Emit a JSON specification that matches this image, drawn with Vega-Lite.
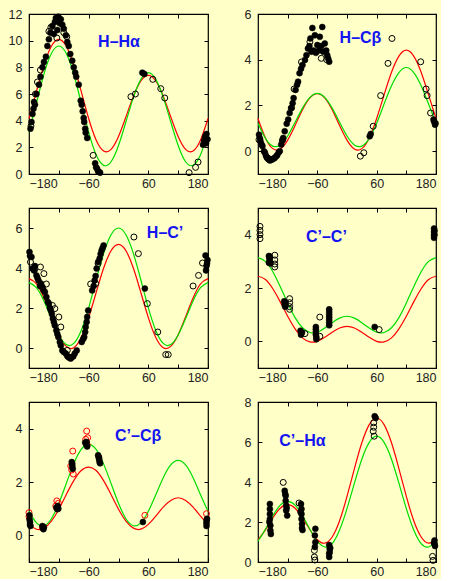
{
  "$schema": "https://vega.github.io/schema/vega-lite/v6.json",
  "background": "#ffffc8",
  "padding": {"left": 7, "top": 7, "right": 0, "bottom": 0},
  "config": {
    "view": {"stroke": "#000", "strokeWidth": 1.2, "fill": "#ffffc8"},
    "axis": {"domain": false, "grid": false, "tickSize": -4, "tickColor": "#000", "tickWidth": 1, "labelFont": "Liberation Sans", "labelFontSize": 12.5, "labelColor": "#222", "labelPadding": 7},
    "axisLeft": {"labelPadding": 11},
    "line": {"strokeWidth": 1.2, "interpolate": "natural", "clip": true}
  },
  "datasets": {
    "curves": [
      {"p":1,"x":-180,"r":4.16,"g":3.14},{"p":1,"x":-165,"r":6.20,"g":5.33},{"p":1,"x":-150,"r":8.16,"g":7.48},{"p":1,"x":-135,"r":9.58,"g":9.03},{"p":1,"x":-120,"r":10.10,"g":9.60},{"p":1,"x":-105,"r":9.58,"g":9.03},{"p":1,"x":-90,"r":8.16,"g":7.48},{"p":1,"x":-75,"r":6.20,"g":5.33},{"p":1,"x":-60,"r":4.16,"g":3.14},{"p":1,"x":-45,"r":2.55,"g":1.44},{"p":1,"x":-30,"r":1.73,"g":0.65},{"p":1,"x":-15,"r":1.85,"g":0.92},{"p":1,"x":0,"r":2.81,"g":2.14},{"p":1,"x":15,"r":4.29,"g":3.92},{"p":1,"x":30,"r":5.83,"g":5.75},{"p":1,"x":45,"r":6.98,"g":7.10},{"p":1,"x":60,"r":7.40,"g":7.60},{"p":1,"x":75,"r":6.98,"g":7.10},{"p":1,"x":90,"r":5.83,"g":5.75},{"p":1,"x":105,"r":4.29,"g":3.92},{"p":1,"x":120,"r":2.81,"g":2.14},{"p":1,"x":135,"r":1.85,"g":0.92},{"p":1,"x":150,"r":1.73,"g":0.65},{"p":1,"x":165,"r":2.55,"g":1.44},{"p":1,"x":180,"r":4.16,"g":3.14},
      {"p":2,"x":-180,"r":1.43,"g":1.22},{"p":2,"x":-165,"r":0.58,"g":0.56},{"p":2,"x":-150,"r":0.11,"g":0.22},{"p":2,"x":-135,"r":0.09,"g":0.27},{"p":2,"x":-120,"r":0.48,"g":0.66},{"p":2,"x":-105,"r":1.12,"g":1.26},{"p":2,"x":-90,"r":1.81,"g":1.88},{"p":2,"x":-75,"r":2.33,"g":2.35},{"p":2,"x":-60,"r":2.52,"g":2.53},{"p":2,"x":-45,"r":2.33,"g":2.35},{"p":2,"x":-30,"r":1.81,"g":1.88},{"p":2,"x":-15,"r":1.12,"g":1.26},{"p":2,"x":0,"r":0.48,"g":0.66},{"p":2,"x":15,"r":0.09,"g":0.27},{"p":2,"x":30,"r":0.11,"g":0.22},{"p":2,"x":45,"r":0.58,"g":0.56},{"p":2,"x":60,"r":1.43,"g":1.22},{"p":2,"x":75,"r":2.46,"g":2.06},{"p":2,"x":90,"r":3.45,"g":2.86},{"p":2,"x":105,"r":4.16,"g":3.44},{"p":2,"x":120,"r":4.42,"g":3.66},{"p":2,"x":135,"r":4.16,"g":3.44},{"p":2,"x":150,"r":3.45,"g":2.86},{"p":2,"x":165,"r":2.46,"g":2.06},{"p":2,"x":180,"r":1.43,"g":1.22},
      {"p":3,"x":-180,"r":3.47,"g":3.27},{"p":3,"x":-165,"r":3.21,"g":3.02},{"p":3,"x":-150,"r":2.50,"g":2.35},{"p":3,"x":-135,"r":1.56,"g":1.47},{"p":3,"x":-120,"r":0.66,"g":0.65},{"p":3,"x":-105,"r":0.08,"g":0.17},{"p":3,"x":-90,"r":0.01,"g":0.23},{"p":3,"x":-75,"r":0.52,"g":0.88},{"p":3,"x":-60,"r":1.52,"g":2.01},{"p":3,"x":-45,"r":2.77,"g":3.40},{"p":3,"x":-30,"r":3.99,"g":4.72},{"p":3,"x":-15,"r":4.86,"g":5.66},{"p":3,"x":0,"r":5.18,"g":6.00},{"p":3,"x":15,"r":4.86,"g":5.66},{"p":3,"x":30,"r":3.99,"g":4.72},{"p":3,"x":45,"r":2.77,"g":3.40},{"p":3,"x":60,"r":1.52,"g":2.01},{"p":3,"x":75,"r":0.52,"g":0.88},{"p":3,"x":90,"r":0.01,"g":0.23},{"p":3,"x":105,"r":0.08,"g":0.17},{"p":3,"x":120,"r":0.66,"g":0.65},{"p":3,"x":135,"r":1.56,"g":1.47},{"p":3,"x":150,"r":2.50,"g":2.35},{"p":3,"x":165,"r":3.21,"g":3.02},{"p":3,"x":180,"r":3.47,"g":3.27},
      {"p":4,"x":-180,"r":2.44,"g":3.14},{"p":4,"x":-165,"r":2.32,"g":3.00},{"p":4,"x":-150,"r":1.97,"g":2.61},{"p":4,"x":-135,"r":1.48,"g":2.05},{"p":4,"x":-120,"r":0.94,"g":1.44},{"p":4,"x":-105,"r":0.47,"g":0.89},{"p":4,"x":-90,"r":0.13,"g":0.51},{"p":4,"x":-75,"r":-0.02,"g":0.33},{"p":4,"x":-60,"r":0.00,"g":0.34},{"p":4,"x":-45,"r":0.15,"g":0.50},{"p":4,"x":-30,"r":0.34,"g":0.70},{"p":4,"x":-15,"r":0.50,"g":0.87},{"p":4,"x":0,"r":0.56,"g":0.94},{"p":4,"x":15,"r":0.50,"g":0.87},{"p":4,"x":30,"r":0.34,"g":0.70},{"p":4,"x":45,"r":0.15,"g":0.50},{"p":4,"x":60,"r":0.00,"g":0.34},{"p":4,"x":75,"r":-0.02,"g":0.33},{"p":4,"x":90,"r":0.13,"g":0.51},{"p":4,"x":105,"r":0.47,"g":0.89},{"p":4,"x":120,"r":0.94,"g":1.44},{"p":4,"x":135,"r":1.48,"g":2.05},{"p":4,"x":150,"r":1.97,"g":2.61},{"p":4,"x":165,"r":2.32,"g":3.00},{"p":4,"x":180,"r":2.44,"g":3.14},
      {"p":5,"x":-180,"r":0.41,"g":0.90},{"p":5,"x":-165,"r":0.23,"g":0.47},{"p":5,"x":-150,"r":0.27,"g":0.36},{"p":5,"x":-135,"r":0.53,"g":0.62},{"p":5,"x":-120,"r":0.98,"g":1.20},{"p":5,"x":-105,"r":1.53,"g":1.95},{"p":5,"x":-90,"r":2.05,"g":2.68},{"p":5,"x":-75,"r":2.43,"g":3.22},{"p":5,"x":-60,"r":2.56,"g":3.41},{"p":5,"x":-45,"r":2.43,"g":3.22},{"p":5,"x":-30,"r":2.05,"g":2.68},{"p":5,"x":-15,"r":1.53,"g":1.95},{"p":5,"x":0,"r":0.98,"g":1.20},{"p":5,"x":15,"r":0.53,"g":0.62},{"p":5,"x":30,"r":0.27,"g":0.36},{"p":5,"x":45,"r":0.23,"g":0.47},{"p":5,"x":60,"r":0.41,"g":0.90},{"p":5,"x":75,"r":0.72,"g":1.52},{"p":5,"x":90,"r":1.06,"g":2.16},{"p":5,"x":105,"r":1.31,"g":2.64},{"p":5,"x":120,"r":1.41,"g":2.81},{"p":5,"x":135,"r":1.31,"g":2.64},{"p":5,"x":150,"r":1.06,"g":2.16},{"p":5,"x":165,"r":0.72,"g":1.52},{"p":5,"x":180,"r":0.41,"g":0.90},
      {"p":6,"x":-180,"r":1.11,"g":1.04},{"p":6,"x":-165,"r":1.61,"g":1.64},{"p":6,"x":-150,"r":2.21,"g":2.31},{"p":6,"x":-135,"r":2.69,"g":2.84},{"p":6,"x":-120,"r":2.87,"g":3.03},{"p":6,"x":-105,"r":2.69,"g":2.84},{"p":6,"x":-90,"r":2.21,"g":2.31},{"p":6,"x":-75,"r":1.61,"g":1.64},{"p":6,"x":-60,"r":1.11,"g":1.04},{"p":6,"x":-45,"r":0.94,"g":0.75},{"p":6,"x":-30,"r":1.25,"g":0.92},{"p":6,"x":-15,"r":2.06,"g":1.60},{"p":6,"x":0,"r":3.28,"g":2.67},{"p":6,"x":15,"r":4.67,"g":3.94},{"p":6,"x":30,"r":5.96,"g":5.14},{"p":6,"x":45,"r":6.87,"g":5.98},{"p":6,"x":60,"r":7.20,"g":6.29},{"p":6,"x":75,"r":6.87,"g":5.98},{"p":6,"x":90,"r":5.96,"g":5.14},{"p":6,"x":105,"r":4.67,"g":3.94},{"p":6,"x":120,"r":3.28,"g":2.67},{"p":6,"x":135,"r":2.06,"g":1.60},{"p":6,"x":150,"r":1.25,"g":0.92},{"p":6,"x":165,"r":0.94,"g":0.75},{"p":6,"x":180,"r":1.11,"g":1.04}
    ],
    "pts": [
      {"p":1,"k":"f","x":-177,"y":3.4},{"p":1,"k":"f","x":-175,"y":3.9},{"p":1,"k":"f","x":-173,"y":4.5},{"p":1,"k":"f","x":-171,"y":4.9},{"p":1,"k":"f","x":-170,"y":5.4},{"p":1,"k":"f","x":-168,"y":5.2},{"p":1,"k":"f","x":-165,"y":6.0},{"p":1,"k":"f","x":-160,"y":6.7},{"p":1,"k":"f","x":-157,"y":7.3},{"p":1,"k":"f","x":-153,"y":8.0},{"p":1,"k":"f","x":-150,"y":8.4},{"p":1,"k":"f","x":-146,"y":8.8},{"p":1,"k":"f","x":-143,"y":9.6},{"p":1,"k":"f","x":-140,"y":10.1},{"p":1,"k":"f","x":-137,"y":10.6},{"p":1,"k":"f","x":-133,"y":11.1},{"p":1,"k":"f","x":-130,"y":10.5},{"p":1,"k":"f","x":-128,"y":11.4},{"p":1,"k":"f","x":-126,"y":11.7},{"p":1,"k":"f","x":-123,"y":10.8},{"p":1,"k":"f","x":-121,"y":11.8},{"p":1,"k":"f","x":-118,"y":11.3},{"p":1,"k":"f","x":-116,"y":11.6},{"p":1,"k":"f","x":-113,"y":11.2},{"p":1,"k":"f","x":-110,"y":10.9},{"p":1,"k":"f","x":-106,"y":10.4},{"p":1,"k":"f","x":-103,"y":9.9},{"p":1,"k":"f","x":-100,"y":9.6},{"p":1,"k":"f","x":-97,"y":9.0},{"p":1,"k":"f","x":-93,"y":8.5},{"p":1,"k":"f","x":-90,"y":8.0},{"p":1,"k":"f","x":-87,"y":7.6},{"p":1,"k":"f","x":-85,"y":7.3},{"p":1,"k":"f","x":-80,"y":6.7},{"p":1,"k":"f","x":-76,"y":5.5},{"p":1,"k":"f","x":-74,"y":5.2},{"p":1,"k":"f","x":-72,"y":4.7},{"p":1,"k":"f","x":-70,"y":4.2},{"p":1,"k":"f","x":-69,"y":3.9},{"p":1,"k":"f","x":-67,"y":3.4},{"p":1,"k":"f","x":-66,"y":3.1},{"p":1,"k":"f","x":-63,"y":2.7},{"p":1,"k":"f","x":-47,"y":0.8},{"p":1,"k":"f","x":-45,"y":0.5},{"p":1,"k":"f","x":-43,"y":0.4},{"p":1,"k":"f","x":-41,"y":0.2},{"p":1,"k":"f","x":-39,"y":0.15},{"p":1,"k":"f","x":-37,"y":0.1},{"p":1,"k":"f","x":48,"y":7.6},{"p":1,"k":"f","x":52,"y":7.5},{"p":1,"k":"f","x":170,"y":2.2},{"p":1,"k":"f","x":172,"y":2.5},{"p":1,"k":"f","x":174,"y":2.8},{"p":1,"k":"f","x":176,"y":2.3},{"p":1,"k":"f","x":177,"y":3.0},{"p":1,"k":"f","x":179,"y":2.6},
      {"p":1,"k":"o","x":-176,"y":3.6},{"p":1,"k":"o","x":-167,"y":6.0},{"p":1,"k":"o","x":-163,"y":6.9},{"p":1,"k":"o","x":-157,"y":7.8},{"p":1,"k":"o","x":-140,"y":10.7},{"p":1,"k":"o","x":-136,"y":11.0},{"p":1,"k":"o","x":-124,"y":10.2},{"p":1,"k":"o","x":-110,"y":10.6},{"p":1,"k":"o","x":-104,"y":10.3},{"p":1,"k":"o","x":-51,"y":1.4},{"p":1,"k":"o","x":25,"y":5.8},{"p":1,"k":"o","x":34,"y":6.0},{"p":1,"k":"o","x":69,"y":7.1},{"p":1,"k":"o","x":85,"y":6.4},{"p":1,"k":"o","x":93,"y":5.7},{"p":1,"k":"o","x":142,"y":0.1},{"p":1,"k":"o","x":155,"y":0.5},{"p":1,"k":"o","x":160,"y":0.9},
      {"p":2,"k":"f","x":-178,"y":0.72},{"p":2,"k":"f","x":-176,"y":0.55},{"p":2,"k":"f","x":-175,"y":0.43},{"p":2,"k":"f","x":-173,"y":0.3},{"p":2,"k":"f","x":-171,"y":0.22},{"p":2,"k":"f","x":-168,"y":0.0},{"p":2,"k":"f","x":-166,"y":-0.07},{"p":2,"k":"f","x":-164,"y":-0.2},{"p":2,"k":"f","x":-162,"y":-0.29},{"p":2,"k":"f","x":-159,"y":-0.36},{"p":2,"k":"f","x":-156,"y":-0.41},{"p":2,"k":"f","x":-153,"y":-0.38},{"p":2,"k":"f","x":-151,"y":-0.36},{"p":2,"k":"f","x":-148,"y":-0.32},{"p":2,"k":"f","x":-146,"y":-0.29},{"p":2,"k":"f","x":-143,"y":-0.22},{"p":2,"k":"f","x":-141,"y":-0.17},{"p":2,"k":"f","x":-138,"y":-0.05},{"p":2,"k":"f","x":-136,"y":0.0},{"p":2,"k":"f","x":-133,"y":0.29},{"p":2,"k":"f","x":-131,"y":0.45},{"p":2,"k":"f","x":-129,"y":0.58},{"p":2,"k":"f","x":-126,"y":0.87},{"p":2,"k":"f","x":-122,"y":1.2},{"p":2,"k":"f","x":-119,"y":1.38},{"p":2,"k":"f","x":-116,"y":1.67},{"p":2,"k":"f","x":-113,"y":1.88},{"p":2,"k":"f","x":-110,"y":2.1},{"p":2,"k":"f","x":-108,"y":2.32},{"p":2,"k":"f","x":-104,"y":2.68},{"p":2,"k":"f","x":-101,"y":2.9},{"p":2,"k":"f","x":-99,"y":3.04},{"p":2,"k":"f","x":-96,"y":3.41},{"p":2,"k":"f","x":-93,"y":3.6},{"p":2,"k":"f","x":-90,"y":3.77},{"p":2,"k":"f","x":-85,"y":3.99},{"p":2,"k":"f","x":-82,"y":4.2},{"p":2,"k":"f","x":-79,"y":4.49},{"p":2,"k":"f","x":-76,"y":4.6},{"p":2,"k":"f","x":-74,"y":4.93},{"p":2,"k":"f","x":-72,"y":4.35},{"p":2,"k":"f","x":-70,"y":5.39},{"p":2,"k":"f","x":-68,"y":4.4},{"p":2,"k":"f","x":-65,"y":5.07},{"p":2,"k":"f","x":-63,"y":4.3},{"p":2,"k":"f","x":-60,"y":4.64},{"p":2,"k":"f","x":-57,"y":4.4},{"p":2,"k":"f","x":-55,"y":5.0},{"p":2,"k":"f","x":-52,"y":4.6},{"p":2,"k":"f","x":-50,"y":5.43},{"p":2,"k":"f","x":-48,"y":4.35},{"p":2,"k":"f","x":-45,"y":4.71},{"p":2,"k":"f","x":-42,"y":4.4},{"p":2,"k":"f","x":-40,"y":4.2},{"p":2,"k":"f","x":-38,"y":4.05},{"p":2,"k":"f","x":-36,"y":3.91},{"p":2,"k":"f","x":46,"y":0.65},{"p":2,"k":"f","x":48,"y":0.75},{"p":2,"k":"f","x":175,"y":1.38},{"p":2,"k":"f","x":176,"y":1.3},{"p":2,"k":"f","x":178,"y":1.16},{"p":2,"k":"f","x":179,"y":1.22},
      {"p":2,"k":"o","x":-178,"y":0.5},{"p":2,"k":"o","x":-160,"y":-0.3},{"p":2,"k":"o","x":-130,"y":0.5},{"p":2,"k":"o","x":-112,"y":1.9},{"p":2,"k":"o","x":-107,"y":2.72},{"p":2,"k":"o","x":-92,"y":3.9},{"p":2,"k":"o","x":-75,"y":4.78},{"p":2,"k":"o","x":-52,"y":4.06},{"p":2,"k":"o","x":-41,"y":4.0},{"p":2,"k":"o","x":27,"y":-0.22},{"p":2,"k":"o","x":34,"y":-0.07},{"p":2,"k":"o","x":53,"y":1.09},{"p":2,"k":"o","x":68,"y":2.43},{"p":2,"k":"o","x":83,"y":3.84},{"p":2,"k":"o","x":91,"y":4.93},{"p":2,"k":"o","x":149,"y":3.91},{"p":2,"k":"o","x":160,"y":2.72},{"p":2,"k":"o","x":162,"y":2.43},{"p":2,"k":"o","x":169,"y":1.67},
      {"p":3,"k":"f","x":-179,"y":4.8},{"p":3,"k":"f","x":-178,"y":4.6},{"p":3,"k":"f","x":-175,"y":4.55},{"p":3,"k":"f","x":-173,"y":3.97},{"p":3,"k":"f","x":-170,"y":3.88},{"p":3,"k":"f","x":-168,"y":4.1},{"p":3,"k":"f","x":-165,"y":3.63},{"p":3,"k":"f","x":-163,"y":3.5},{"p":3,"k":"f","x":-161,"y":3.38},{"p":3,"k":"f","x":-158,"y":3.1},{"p":3,"k":"f","x":-156,"y":3.22},{"p":3,"k":"f","x":-153,"y":3.05},{"p":3,"k":"f","x":-151,"y":2.9},{"p":3,"k":"f","x":-148,"y":2.8},{"p":3,"k":"f","x":-145,"y":2.55},{"p":3,"k":"f","x":-142,"y":2.3},{"p":3,"k":"f","x":-140,"y":2.22},{"p":3,"k":"f","x":-138,"y":2.0},{"p":3,"k":"f","x":-136,"y":1.88},{"p":3,"k":"f","x":-134,"y":1.7},{"p":3,"k":"f","x":-132,"y":1.47},{"p":3,"k":"f","x":-130,"y":1.3},{"p":3,"k":"f","x":-128,"y":1.13},{"p":3,"k":"f","x":-125,"y":0.88},{"p":3,"k":"f","x":-123,"y":0.7},{"p":3,"k":"f","x":-121,"y":0.55},{"p":3,"k":"f","x":-118,"y":0.3},{"p":3,"k":"f","x":-116,"y":0.13},{"p":3,"k":"f","x":-113,"y":-0.12},{"p":3,"k":"f","x":-110,"y":-0.2},{"p":3,"k":"f","x":-106,"y":-0.28},{"p":3,"k":"f","x":-103,"y":-0.4},{"p":3,"k":"f","x":-101,"y":-0.45},{"p":3,"k":"f","x":-98,"y":-0.5},{"p":3,"k":"f","x":-96,"y":-0.53},{"p":3,"k":"f","x":-94,"y":-0.45},{"p":3,"k":"f","x":-91,"y":-0.42},{"p":3,"k":"f","x":-88,"y":-0.28},{"p":3,"k":"f","x":-84,"y":-0.12},{"p":3,"k":"f","x":-74,"y":0.3},{"p":3,"k":"f","x":-71,"y":0.45},{"p":3,"k":"f","x":-69,"y":0.55},{"p":3,"k":"f","x":-67,"y":0.8},{"p":3,"k":"f","x":-66,"y":1.05},{"p":3,"k":"f","x":-64,"y":1.3},{"p":3,"k":"f","x":-63,"y":1.55},{"p":3,"k":"f","x":-61,"y":1.88},{"p":3,"k":"f","x":-53,"y":2.88},{"p":3,"k":"f","x":-50,"y":3.1},{"p":3,"k":"f","x":-48,"y":3.38},{"p":3,"k":"f","x":-46,"y":3.6},{"p":3,"k":"f","x":-44,"y":3.97},{"p":3,"k":"f","x":-41,"y":4.3},{"p":3,"k":"f","x":-38,"y":4.47},{"p":3,"k":"f","x":-36,"y":4.7},{"p":3,"k":"f","x":-34,"y":4.88},{"p":3,"k":"f","x":-32,"y":5.0},{"p":3,"k":"f","x":-30,"y":5.13},{"p":3,"k":"f","x":53,"y":2.97},{"p":3,"k":"f","x":176,"y":3.88},{"p":3,"k":"f","x":177,"y":4.1},{"p":3,"k":"f","x":178,"y":4.22},{"p":3,"k":"f","x":179,"y":4.4},{"p":3,"k":"f","x":175,"y":4.63},
      {"p":3,"k":"o","x":-177,"y":4.3},{"p":3,"k":"o","x":-169,"y":3.9},{"p":3,"k":"o","x":-157,"y":4.05},{"p":3,"k":"o","x":-150,"y":3.72},{"p":3,"k":"o","x":-145,"y":3.2},{"p":3,"k":"o","x":-133,"y":2.13},{"p":3,"k":"o","x":-128,"y":1.97},{"p":3,"k":"o","x":-120,"y":1.55},{"p":3,"k":"o","x":-116,"y":1.05},{"p":3,"k":"o","x":-103,"y":-0.12},{"p":3,"k":"o","x":-56,"y":3.2},{"p":3,"k":"o","x":-46,"y":3.22},{"p":3,"k":"o","x":-41,"y":4.22},{"p":3,"k":"o","x":31,"y":5.55},{"p":3,"k":"o","x":40,"y":4.72},{"p":3,"k":"o","x":58,"y":2.22},{"p":3,"k":"o","x":79,"y":0.8},{"p":3,"k":"o","x":95,"y":-0.33},{"p":3,"k":"o","x":100,"y":-0.33},{"p":3,"k":"o","x":150,"y":3.1},{"p":3,"k":"o","x":161,"y":3.63},{"p":3,"k":"o","x":169,"y":4.25},
      {"p":4,"k":"o","x":-176,"y":4.31},{"p":4,"k":"o","x":-176,"y":4.16},{"p":4,"k":"o","x":-176,"y":4.0},{"p":4,"k":"o","x":-176,"y":3.85},{"p":4,"k":"o","x":-146,"y":3.23},{"p":4,"k":"o","x":-146,"y":3.05},{"p":4,"k":"o","x":-146,"y":2.9},{"p":4,"k":"o","x":-146,"y":2.79},{"p":4,"k":"o","x":-116,"y":1.6},{"p":4,"k":"o","x":-116,"y":1.45},{"p":4,"k":"o","x":-116,"y":1.3},{"p":4,"k":"o","x":-116,"y":1.2},{"p":4,"k":"o","x":-85,"y":0.29},{"p":4,"k":"o","x":-55,"y":0.91},{"p":4,"k":"o","x":-55,"y":0.19},{"p":4,"k":"o","x":65,"y":0.44},
      {"p":4,"k":"f","x":-158,"y":3.2},{"p":4,"k":"f","x":-157,"y":3.1},{"p":4,"k":"f","x":-156,"y":3.0},{"p":4,"k":"f","x":-155,"y":2.92},{"p":4,"k":"f","x":-158,"y":2.95},{"p":4,"k":"f","x":-156,"y":3.18},{"p":4,"k":"f","x":-127,"y":1.5},{"p":4,"k":"f","x":-126,"y":1.38},{"p":4,"k":"f","x":-125,"y":1.3},{"p":4,"k":"f","x":-124,"y":1.45},{"p":4,"k":"f","x":-94,"y":0.4},{"p":4,"k":"f","x":-93,"y":0.25},{"p":4,"k":"f","x":-91,"y":0.33},{"p":4,"k":"f","x":-63,"y":0.54},{"p":4,"k":"f","x":-63,"y":0.45},{"p":4,"k":"f","x":-63,"y":0.35},{"p":4,"k":"f","x":-63,"y":0.25},{"p":4,"k":"f","x":-62,"y":0.16},{"p":4,"k":"f","x":-62,"y":0.08},{"p":4,"k":"f","x":-36,"y":1.2},{"p":4,"k":"f","x":-36,"y":1.1},{"p":4,"k":"f","x":-36,"y":1.0},{"p":4,"k":"f","x":-36,"y":0.9},{"p":4,"k":"f","x":-36,"y":0.8},{"p":4,"k":"f","x":-36,"y":0.7},{"p":4,"k":"f","x":-36,"y":0.6},{"p":4,"k":"f","x":56,"y":0.54},{"p":4,"k":"f","x":176,"y":4.23},{"p":4,"k":"f","x":176,"y":4.1},{"p":4,"k":"f","x":176,"y":3.98},{"p":4,"k":"f","x":176,"y":3.88},{"p":4,"k":"f","x":177,"y":4.15},{"p":4,"k":"f","x":177,"y":4.0},
      {"p":5,"k":"f","x":-179,"y":0.75},{"p":5,"k":"f","x":-179,"y":0.6},{"p":5,"k":"f","x":-178,"y":0.5},{"p":5,"k":"f","x":-178,"y":0.4},{"p":5,"k":"f","x":-177,"y":0.35},{"p":5,"k":"f","x":-153,"y":0.35},{"p":5,"k":"f","x":-152,"y":0.28},{"p":5,"k":"f","x":-151,"y":0.23},{"p":5,"k":"f","x":-150,"y":0.3},{"p":5,"k":"f","x":-125,"y":1.04},{"p":5,"k":"f","x":-123,"y":0.98},{"p":5,"k":"f","x":-122,"y":1.1},{"p":5,"k":"f","x":-121,"y":1.0},{"p":5,"k":"f","x":-94,"y":2.75},{"p":5,"k":"f","x":-93,"y":2.6},{"p":5,"k":"f","x":-92,"y":2.5},{"p":5,"k":"f","x":-93,"y":2.68},{"p":5,"k":"f","x":-67,"y":3.48},{"p":5,"k":"f","x":-65,"y":3.41},{"p":5,"k":"f","x":-63,"y":3.33},{"p":5,"k":"f","x":-64,"y":3.5},{"p":5,"k":"f","x":-41,"y":3.0},{"p":5,"k":"f","x":-40,"y":2.95},{"p":5,"k":"f","x":-39,"y":2.85},{"p":5,"k":"f","x":-38,"y":2.75},{"p":5,"k":"f","x":-37,"y":2.7},{"p":5,"k":"f","x":-39,"y":2.9},{"p":5,"k":"f","x":49,"y":0.5},{"p":5,"k":"f","x":177,"y":0.35},{"p":5,"k":"f","x":177,"y":0.45},{"p":5,"k":"f","x":177,"y":0.54},{"p":5,"k":"f","x":178,"y":0.62},
      {"p":5,"k":"r","x":-180,"y":0.85},{"p":5,"k":"r","x":-180,"y":0.7},{"p":5,"k":"r","x":-153,"y":0.29},{"p":5,"k":"r","x":-126,"y":1.1},{"p":5,"k":"r","x":-124,"y":1.29},{"p":5,"k":"r","x":-121,"y":1.2},{"p":5,"k":"r","x":-96,"y":2.6},{"p":5,"k":"r","x":-92,"y":3.16},{"p":5,"k":"r","x":-91,"y":2.3},{"p":5,"k":"r","x":-94,"y":2.45},{"p":5,"k":"r","x":-66,"y":3.6},{"p":5,"k":"r","x":-64,"y":3.91},{"p":5,"k":"r","x":-62,"y":3.66},{"p":5,"k":"r","x":-63,"y":3.4},{"p":5,"k":"r","x":53,"y":0.75},{"p":5,"k":"r","x":177,"y":0.81},
      {"p":6,"k":"f","x":-156,"y":2.9},{"p":6,"k":"f","x":-156,"y":2.65},{"p":6,"k":"f","x":-156,"y":2.4},{"p":6,"k":"f","x":-156,"y":2.15},{"p":6,"k":"f","x":-155,"y":1.82},{"p":6,"k":"f","x":-155,"y":1.57},{"p":6,"k":"f","x":-154,"y":1.4},{"p":6,"k":"f","x":-157,"y":2.0},{"p":6,"k":"f","x":-126,"y":3.56},{"p":6,"k":"f","x":-124,"y":3.31},{"p":6,"k":"f","x":-124,"y":3.06},{"p":6,"k":"f","x":-123,"y":2.82},{"p":6,"k":"f","x":-123,"y":2.57},{"p":6,"k":"f","x":-121,"y":2.32},{"p":6,"k":"f","x":-125,"y":3.4},{"p":6,"k":"f","x":-122,"y":2.7},{"p":6,"k":"f","x":-93,"y":2.9},{"p":6,"k":"f","x":-92,"y":2.65},{"p":6,"k":"f","x":-92,"y":2.4},{"p":6,"k":"f","x":-92,"y":2.15},{"p":6,"k":"f","x":-91,"y":1.9},{"p":6,"k":"f","x":-91,"y":1.7},{"p":6,"k":"f","x":-90,"y":1.6},{"p":6,"k":"f","x":-94,"y":2.5},{"p":6,"k":"f","x":-64,"y":1.66},{"p":6,"k":"f","x":-65,"y":1.33},{"p":6,"k":"f","x":-64,"y":0.99},{"p":6,"k":"f","x":-65,"y":0.75},{"p":6,"k":"f","x":-36,"y":0.85},{"p":6,"k":"f","x":-35,"y":0.66},{"p":6,"k":"f","x":-35,"y":0.5},{"p":6,"k":"f","x":-36,"y":0.41},{"p":6,"k":"f","x":-36,"y":0.25},{"p":6,"k":"f","x":-34,"y":0.7},{"p":6,"k":"f","x":56,"y":7.29},{"p":6,"k":"f","x":58,"y":7.2},{"p":6,"k":"f","x":177,"y":1.08},{"p":6,"k":"f","x":177,"y":0.91},{"p":6,"k":"f","x":178,"y":0.8},{"p":6,"k":"f","x":176,"y":0.95},
      {"p":6,"k":"o","x":-129,"y":3.98},{"p":6,"k":"o","x":-97,"y":2.95},{"p":6,"k":"o","x":-66,"y":0.58},{"p":6,"k":"o","x":-66,"y":0.25},{"p":6,"k":"o","x":-65,"y":0.1},{"p":6,"k":"o","x":54,"y":6.96},{"p":6,"k":"o","x":54,"y":6.74},{"p":6,"k":"o","x":53,"y":6.54},{"p":6,"k":"o","x":55,"y":6.29},{"p":6,"k":"o","x":173,"y":0.28},{"p":6,"k":"o","x":174,"y":0.08}
    ]
  },
  "columns": 2,
  "spacing": {"row": 34, "column": 50},
  "bounds": "flush",
  "concat": [
    {
      "width": 179, "height": 160,
      "layer": [
        {"data": {"name": "curves"}, "transform": [{"filter": "datum.p == 1"}, {"fold": ["r", "g"], "as": ["c", "y"]}], "mark": {"type": "line"},
         "encoding": {"x": {"field": "x", "type": "quantitative", "scale": {"domain": [-180, 180], "nice": false, "zero": false}, "axis": {"orient": "bottom", "title": null, "values": [-180, -120, -60, 0, 60, 120, 180], "labelExpr": "abs(datum.value) == 180 || abs(datum.value) == 60 ? datum.label : ''"}},
                      "y": {"field": "y", "type": "quantitative", "scale": {"domain": [0, 12], "nice": false, "zero": false}, "axis": {"orient": "left", "title": null, "values": [0, 2, 4, 6, 8, 10, 12]}},
                      "color": {"field": "c", "type": "nominal", "scale": {"domain": ["r", "g"], "range": ["#ff0000", "#00dd00"]}, "legend": null}}},
        {"data": {"name": "pts"}, "transform": [{"filter": "datum.p == 1 && datum.k == 'o'"}], "mark": {"type": "point", "shape": "circle", "filled": false, "stroke": "#000", "strokeWidth": 1, "size": 36, "opacity": 1},
         "encoding": {"x": {"field": "x", "type": "quantitative", "axis": {"orient": "top", "title": null, "labels": false, "values": [-180, -120, -60, 0, 60, 120, 180]}}, "y": {"field": "y", "type": "quantitative", "axis": {"orient": "right", "title": null, "labels": false, "values": [0, 2, 4, 6, 8, 10, 12]}}}},
        {"data": {"name": "pts"}, "transform": [{"filter": "datum.p == 1 && datum.k == 'f'"}], "mark": {"type": "circle", "fill": "#000", "stroke": "#000", "strokeWidth": 0.5, "size": 36, "opacity": 1},
         "encoding": {"x": {"field": "x", "type": "quantitative", "axis": null}, "y": {"field": "y", "type": "quantitative", "axis": null}}},
        {"data": {"values": [{"t": "H–Hα"}]}, "mark": {"type": "text", "font": "Liberation Sans", "fontWeight": "bold", "fontSize": 16, "fill": "#1414f0", "align": "left", "baseline": "alphabetic"},
         "encoding": {"x": {"datum": -41, "axis": null}, "y": {"datum": 9.53, "axis": null}, "text": {"field": "t"}}}
      ],
      "resolve": {"axis": {"x": "independent", "y": "independent"}}
    },
    {
      "width": 178, "height": 160,
      "layer": [
        {"data": {"name": "curves"}, "transform": [{"filter": "datum.p == 2"}, {"fold": ["r", "g"], "as": ["c", "y"]}], "mark": {"type": "line"},
         "encoding": {"x": {"field": "x", "type": "quantitative", "scale": {"domain": [-180, 180], "nice": false, "zero": false}, "axis": {"orient": "bottom", "title": null, "values": [-180, -120, -60, 0, 60, 120, 180], "labelExpr": "abs(datum.value) == 180 || abs(datum.value) == 60 ? datum.label : ''"}},
                      "y": {"field": "y", "type": "quantitative", "scale": {"domain": [-1, 6], "nice": false, "zero": false}, "axis": {"orient": "left", "title": null, "values": [0, 2, 4, 6]}},
                      "color": {"field": "c", "type": "nominal", "scale": {"domain": ["r", "g"], "range": ["#ff0000", "#00dd00"]}, "legend": null}}},
        {"data": {"name": "pts"}, "transform": [{"filter": "datum.p == 2 && datum.k == 'o'"}], "mark": {"type": "point", "shape": "circle", "filled": false, "stroke": "#000", "strokeWidth": 1, "size": 36, "opacity": 1},
         "encoding": {"x": {"field": "x", "type": "quantitative", "axis": {"orient": "top", "title": null, "labels": false, "values": [-180, -120, -60, 0, 60, 120, 180]}}, "y": {"field": "y", "type": "quantitative", "axis": {"orient": "right", "title": null, "labels": false, "values": [0, 2, 4, 6]}}}},
        {"data": {"name": "pts"}, "transform": [{"filter": "datum.p == 2 && datum.k == 'f'"}], "mark": {"type": "circle", "fill": "#000", "stroke": "#000", "strokeWidth": 0.5, "size": 36, "opacity": 1},
         "encoding": {"x": {"field": "x", "type": "quantitative", "axis": null}, "y": {"field": "y", "type": "quantitative", "axis": null}}},
        {"data": {"values": [{"t": "H–Cβ"}]}, "mark": {"type": "text", "font": "Liberation Sans", "fontWeight": "bold", "fontSize": 16, "fill": "#1414f0", "align": "left", "baseline": "alphabetic"},
         "encoding": {"x": {"datum": -15, "axis": null}, "y": {"datum": 4.73, "axis": null}, "text": {"field": "t"}}}
      ],
      "resolve": {"axis": {"x": "independent", "y": "independent"}}
    },
    {
      "width": 179, "height": 160,
      "layer": [
        {"data": {"name": "curves"}, "transform": [{"filter": "datum.p == 3"}, {"fold": ["r", "g"], "as": ["c", "y"]}], "mark": {"type": "line"},
         "encoding": {"x": {"field": "x", "type": "quantitative", "scale": {"domain": [-180, 180], "nice": false, "zero": false}, "axis": {"orient": "bottom", "title": null, "values": [-180, -120, -60, 0, 60, 120, 180], "labelExpr": "abs(datum.value) == 180 || abs(datum.value) == 60 ? datum.label : ''"}},
                      "y": {"field": "y", "type": "quantitative", "scale": {"domain": [-1, 7], "nice": false, "zero": false}, "axis": {"orient": "left", "title": null, "values": [0, 2, 4, 6]}},
                      "color": {"field": "c", "type": "nominal", "scale": {"domain": ["r", "g"], "range": ["#ff0000", "#00dd00"]}, "legend": null}}},
        {"data": {"name": "pts"}, "transform": [{"filter": "datum.p == 3 && datum.k == 'o'"}], "mark": {"type": "point", "shape": "circle", "filled": false, "stroke": "#000", "strokeWidth": 1, "size": 36, "opacity": 1},
         "encoding": {"x": {"field": "x", "type": "quantitative", "axis": {"orient": "top", "title": null, "labels": false, "values": [-180, -120, -60, 0, 60, 120, 180]}}, "y": {"field": "y", "type": "quantitative", "axis": {"orient": "right", "title": null, "labels": false, "values": [0, 2, 4, 6]}}}},
        {"data": {"name": "pts"}, "transform": [{"filter": "datum.p == 3 && datum.k == 'f'"}], "mark": {"type": "circle", "fill": "#000", "stroke": "#000", "strokeWidth": 0.5, "size": 36, "opacity": 1},
         "encoding": {"x": {"field": "x", "type": "quantitative", "axis": null}, "y": {"field": "y", "type": "quantitative", "axis": null}}},
        {"data": {"values": [{"t": "H–C’"}]}, "mark": {"type": "text", "font": "Liberation Sans", "fontWeight": "bold", "fontSize": 16, "fill": "#1414f0", "align": "left", "baseline": "alphabetic"},
         "encoding": {"x": {"datum": 57, "axis": null}, "y": {"datum": 5.49, "axis": null}, "text": {"field": "t"}}}
      ],
      "resolve": {"axis": {"x": "independent", "y": "independent"}}
    },
    {
      "width": 178, "height": 160,
      "layer": [
        {"data": {"name": "curves"}, "transform": [{"filter": "datum.p == 4"}, {"fold": ["r", "g"], "as": ["c", "y"]}], "mark": {"type": "line"},
         "encoding": {"x": {"field": "x", "type": "quantitative", "scale": {"domain": [-180, 180], "nice": false, "zero": false}, "axis": {"orient": "bottom", "title": null, "values": [-180, -120, -60, 0, 60, 120, 180], "labelExpr": "abs(datum.value) == 180 || abs(datum.value) == 60 ? datum.label : ''"}},
                      "y": {"field": "y", "type": "quantitative", "scale": {"domain": [-1, 5], "nice": false, "zero": false}, "axis": {"orient": "left", "title": null, "values": [0, 2, 4]}},
                      "color": {"field": "c", "type": "nominal", "scale": {"domain": ["r", "g"], "range": ["#ff0000", "#00dd00"]}, "legend": null}}},
        {"data": {"name": "pts"}, "transform": [{"filter": "datum.p == 4 && datum.k == 'o'"}], "mark": {"type": "point", "shape": "circle", "filled": false, "stroke": "#000", "strokeWidth": 1, "size": 36, "opacity": 1},
         "encoding": {"x": {"field": "x", "type": "quantitative", "axis": {"orient": "top", "title": null, "labels": false, "values": [-180, -120, -60, 0, 60, 120, 180]}}, "y": {"field": "y", "type": "quantitative", "axis": {"orient": "right", "title": null, "labels": false, "values": [0, 2, 4]}}}},
        {"data": {"name": "pts"}, "transform": [{"filter": "datum.p == 4 && datum.k == 'f'"}], "mark": {"type": "circle", "fill": "#000", "stroke": "#000", "strokeWidth": 0.5, "size": 36, "opacity": 1},
         "encoding": {"x": {"field": "x", "type": "quantitative", "axis": null}, "y": {"field": "y", "type": "quantitative", "axis": null}}},
        {"data": {"values": [{"t": "C’–C’"}]}, "mark": {"type": "text", "font": "Liberation Sans", "fontWeight": "bold", "fontSize": 16, "fill": "#1414f0", "align": "left", "baseline": "alphabetic"},
         "encoding": {"x": {"datum": -83, "axis": null}, "y": {"datum": 3.71, "axis": null}, "text": {"field": "t"}}}
      ],
      "resolve": {"axis": {"x": "independent", "y": "independent"}}
    },
    {
      "width": 179, "height": 160,
      "layer": [
        {"data": {"name": "curves"}, "transform": [{"filter": "datum.p == 5"}, {"fold": ["r", "g"], "as": ["c", "y"]}], "mark": {"type": "line"},
         "encoding": {"x": {"field": "x", "type": "quantitative", "scale": {"domain": [-180, 180], "nice": false, "zero": false}, "axis": {"orient": "bottom", "title": null, "values": [-180, -120, -60, 0, 60, 120, 180], "labelExpr": "abs(datum.value) == 180 || abs(datum.value) == 60 ? datum.label : ''"}},
                      "y": {"field": "y", "type": "quantitative", "scale": {"domain": [-1, 5], "nice": false, "zero": false}, "axis": {"orient": "left", "title": null, "values": [0, 2, 4]}},
                      "color": {"field": "c", "type": "nominal", "scale": {"domain": ["r", "g"], "range": ["#ff0000", "#00dd00"]}, "legend": null}}},
        {"data": {"name": "pts"}, "transform": [{"filter": "datum.p == 5 && datum.k == 'r'"}], "mark": {"type": "point", "shape": "circle", "filled": false, "stroke": "#ff0000", "strokeWidth": 1, "size": 36, "opacity": 1},
         "encoding": {"x": {"field": "x", "type": "quantitative", "axis": {"orient": "top", "title": null, "labels": false, "values": [-180, -120, -60, 0, 60, 120, 180]}}, "y": {"field": "y", "type": "quantitative", "axis": {"orient": "right", "title": null, "labels": false, "values": [0, 2, 4]}}}},
        {"data": {"name": "pts"}, "transform": [{"filter": "datum.p == 5 && datum.k == 'f'"}], "mark": {"type": "circle", "fill": "#000", "stroke": "#000", "strokeWidth": 0.5, "size": 36, "opacity": 1},
         "encoding": {"x": {"field": "x", "type": "quantitative", "axis": null}, "y": {"field": "y", "type": "quantitative", "axis": null}}},
        {"data": {"values": [{"t": "C’–Cβ"}]}, "mark": {"type": "text", "font": "Liberation Sans", "fontWeight": "bold", "fontSize": 16, "fill": "#1414f0", "align": "left", "baseline": "alphabetic"},
         "encoding": {"x": {"datum": -7, "axis": null}, "y": {"datum": 3.52, "axis": null}, "text": {"field": "t"}}}
      ],
      "resolve": {"axis": {"x": "independent", "y": "independent"}}
    },
    {
      "width": 178, "height": 160,
      "layer": [
        {"data": {"name": "curves"}, "transform": [{"filter": "datum.p == 6"}, {"fold": ["r", "g"], "as": ["c", "y"]}], "mark": {"type": "line"},
         "encoding": {"x": {"field": "x", "type": "quantitative", "scale": {"domain": [-180, 180], "nice": false, "zero": false}, "axis": {"orient": "bottom", "title": null, "values": [-180, -120, -60, 0, 60, 120, 180], "labelExpr": "abs(datum.value) == 180 || abs(datum.value) == 60 ? datum.label : ''"}},
                      "y": {"field": "y", "type": "quantitative", "scale": {"domain": [0, 8], "nice": false, "zero": false}, "axis": {"orient": "left", "title": null, "values": [0, 2, 4, 6, 8]}},
                      "color": {"field": "c", "type": "nominal", "scale": {"domain": ["r", "g"], "range": ["#ff0000", "#00dd00"]}, "legend": null}}},
        {"data": {"name": "pts"}, "transform": [{"filter": "datum.p == 6 && datum.k == 'o'"}], "mark": {"type": "point", "shape": "circle", "filled": false, "stroke": "#000", "strokeWidth": 1, "size": 36, "opacity": 1},
         "encoding": {"x": {"field": "x", "type": "quantitative", "axis": {"orient": "top", "title": null, "labels": false, "values": [-180, -120, -60, 0, 60, 120, 180]}}, "y": {"field": "y", "type": "quantitative", "axis": {"orient": "right", "title": null, "labels": false, "values": [0, 2, 4, 6, 8]}}}},
        {"data": {"name": "pts"}, "transform": [{"filter": "datum.p == 6 && datum.k == 'f'"}], "mark": {"type": "circle", "fill": "#000", "stroke": "#000", "strokeWidth": 0.5, "size": 36, "opacity": 1},
         "encoding": {"x": {"field": "x", "type": "quantitative", "axis": null}, "y": {"field": "y", "type": "quantitative", "axis": null}}},
        {"data": {"values": [{"t": "C’–Hα"}]}, "mark": {"type": "text", "font": "Liberation Sans", "fontWeight": "bold", "fontSize": 16, "fill": "#1414f0", "align": "left", "baseline": "alphabetic"},
         "encoding": {"x": {"datum": -137, "axis": null}, "y": {"datum": 5.81, "axis": null}, "text": {"field": "t"}}}
      ],
      "resolve": {"axis": {"x": "independent", "y": "independent"}}
    }
  ]
}
